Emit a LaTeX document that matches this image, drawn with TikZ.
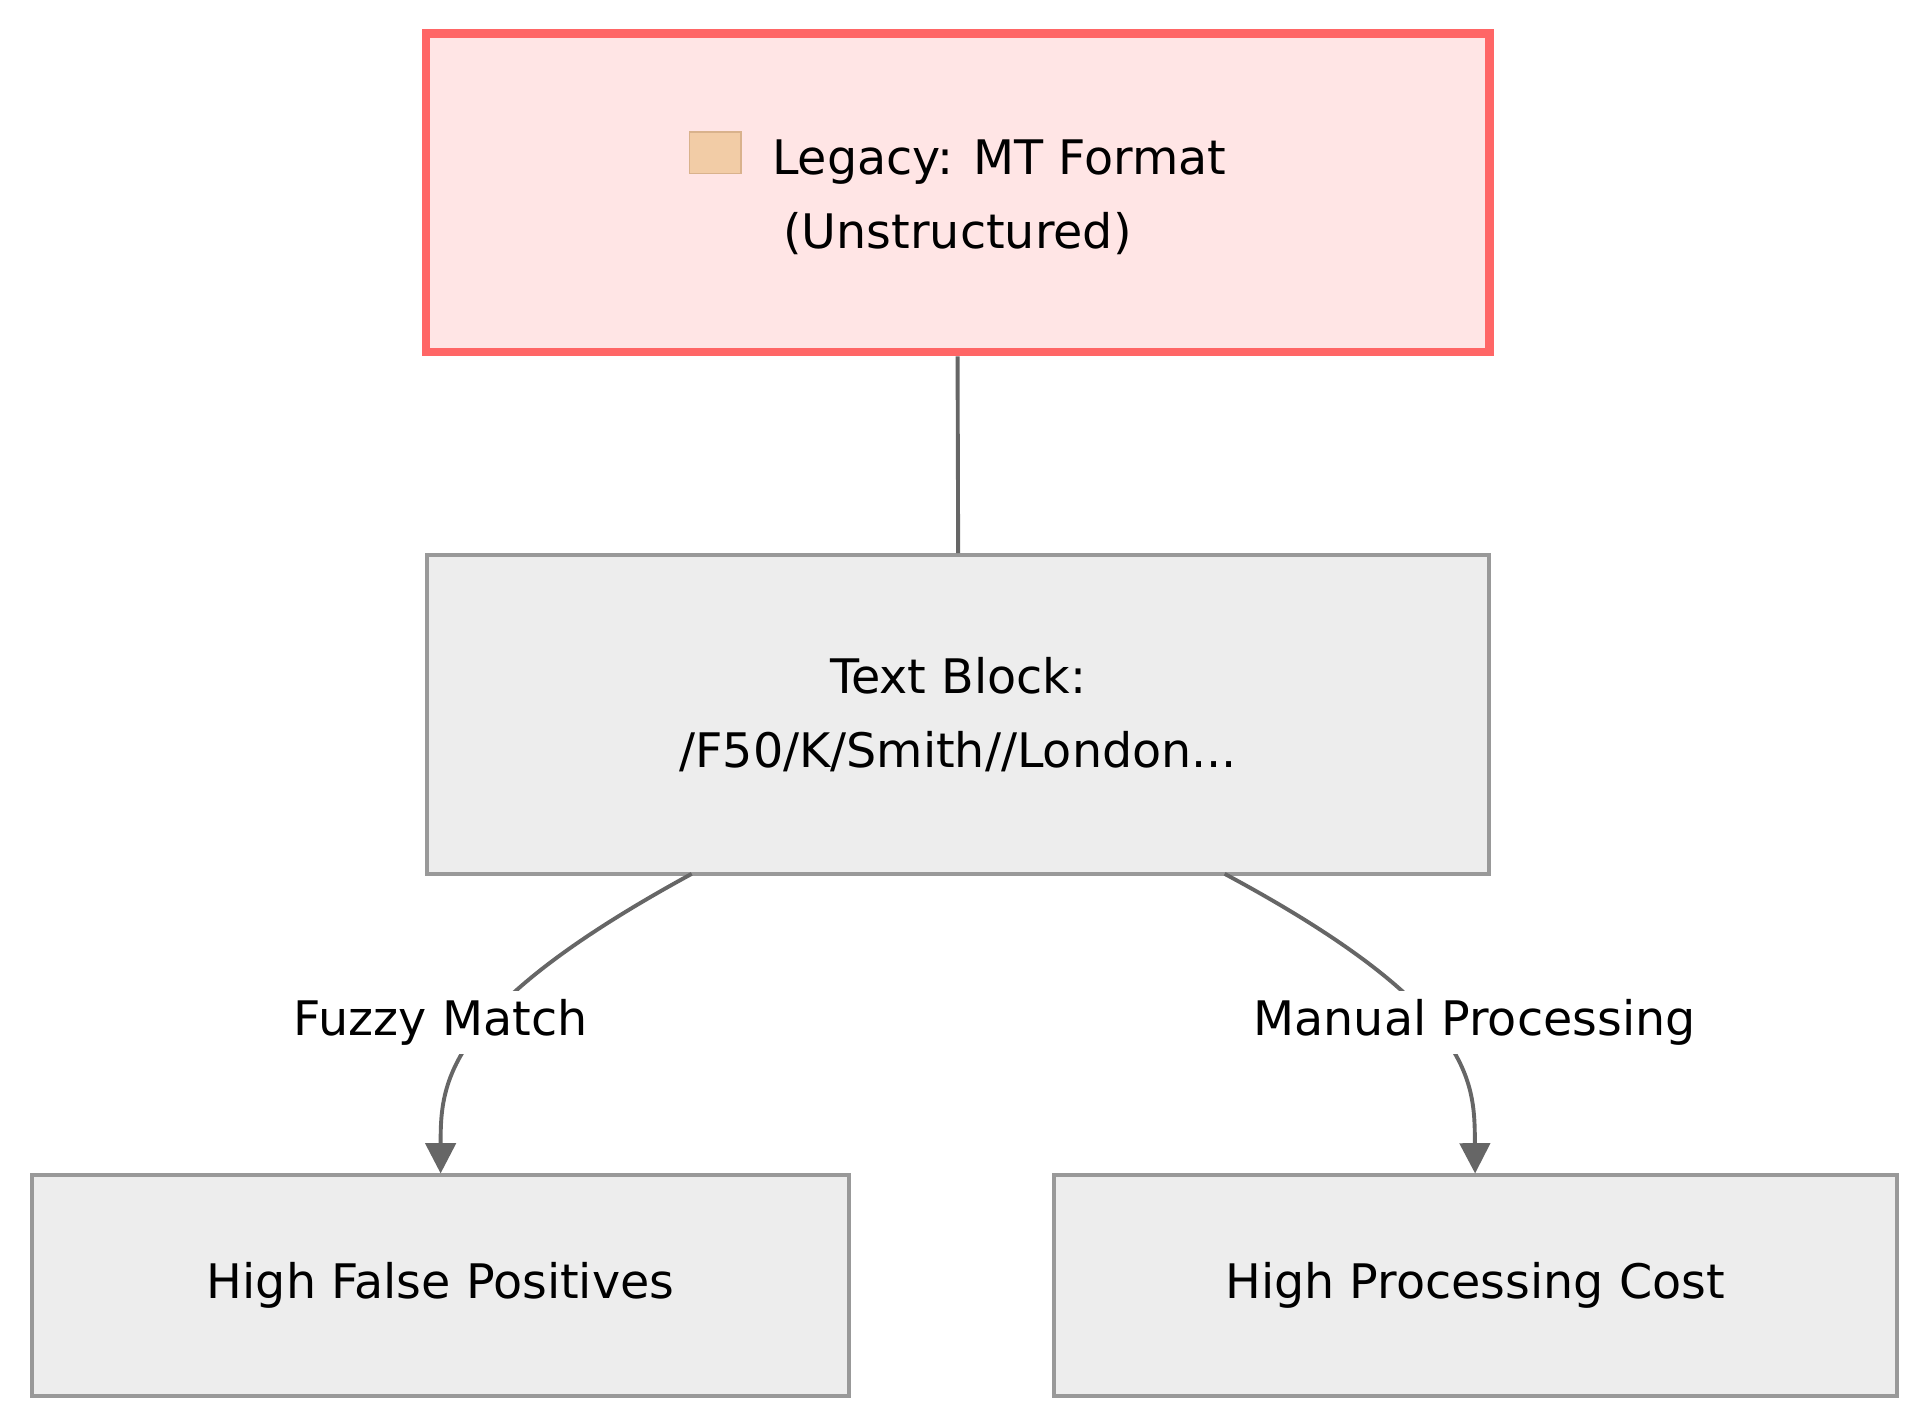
\documentclass[tikz,border=0pt]{standalone}
\usepackage{fontspec}
\setmainfont{DejaVu Sans}
\usetikzlibrary{positioning,arrows.meta}

\begin{document}
\begin{tikzpicture}[x=1cm,y=1cm,
    box/.style={draw=gray!80,fill=gray!14,line width=0.9pt,font=\fontsize{11}{17}\selectfont,align=center},
    legacy/.style={box,draw=red!60!white,fill=red!10,line width=2pt},
    edge/.style={draw=black!60,line width=0.9pt},
    lbl/.style={font=\fontsize{11}{14}\selectfont,fill=white,inner sep=2pt}]
    \useasboundingbox (0,0) rectangle (15.6,-11.56);

    % Boxes
    \node[legacy,minimum width=8.64cm,minimum height=2.59cm] (mt) at (7.78,-1.565)
      {\tikz\fill[brown!50!orange!40,draw=brown!60] (0,0) rectangle (0.42,0.34);\ \ Legacy: MT Format\\(Unstructured)};
    \node[box,minimum width=8.63cm,minimum height=2.59cm] (txt) at (7.785,-5.805)
      {Text Block:\\/F50/K/Smith//London...};
    \node[box,minimum width=6.64cm,minimum height=1.79cm] (fp) at (3.58,-10.445)
      {High False Positives};
    \node[box,minimum width=6.85cm,minimum height=1.79cm] (cost) at (11.985,-10.445)
      {High Processing Cost};

    % Connectors
    \draw[edge] (mt.south) -- (txt.north);
    \coordinate (a1) at (5.62,-7.1);
    \coordinate (a2) at (9.95,-7.1);
    \draw[edge,-{Triangle[length=7pt,width=7pt]}] (a1)
      .. controls (3.6,-8.2) and (3.58,-8.8) .. (fp.north);
    \draw[edge,-{Triangle[length=7pt,width=7pt]}] (a2)
      .. controls (12.0,-8.2) and (11.98,-8.8) .. (cost.north);

    % Edge labels
    \node[lbl] (l1) at (3.58,-8.31) {Fuzzy Match};
    \node[lbl] (l2) at (11.98,-8.31) {Manual Processing};
\end{tikzpicture}
\end{document}
